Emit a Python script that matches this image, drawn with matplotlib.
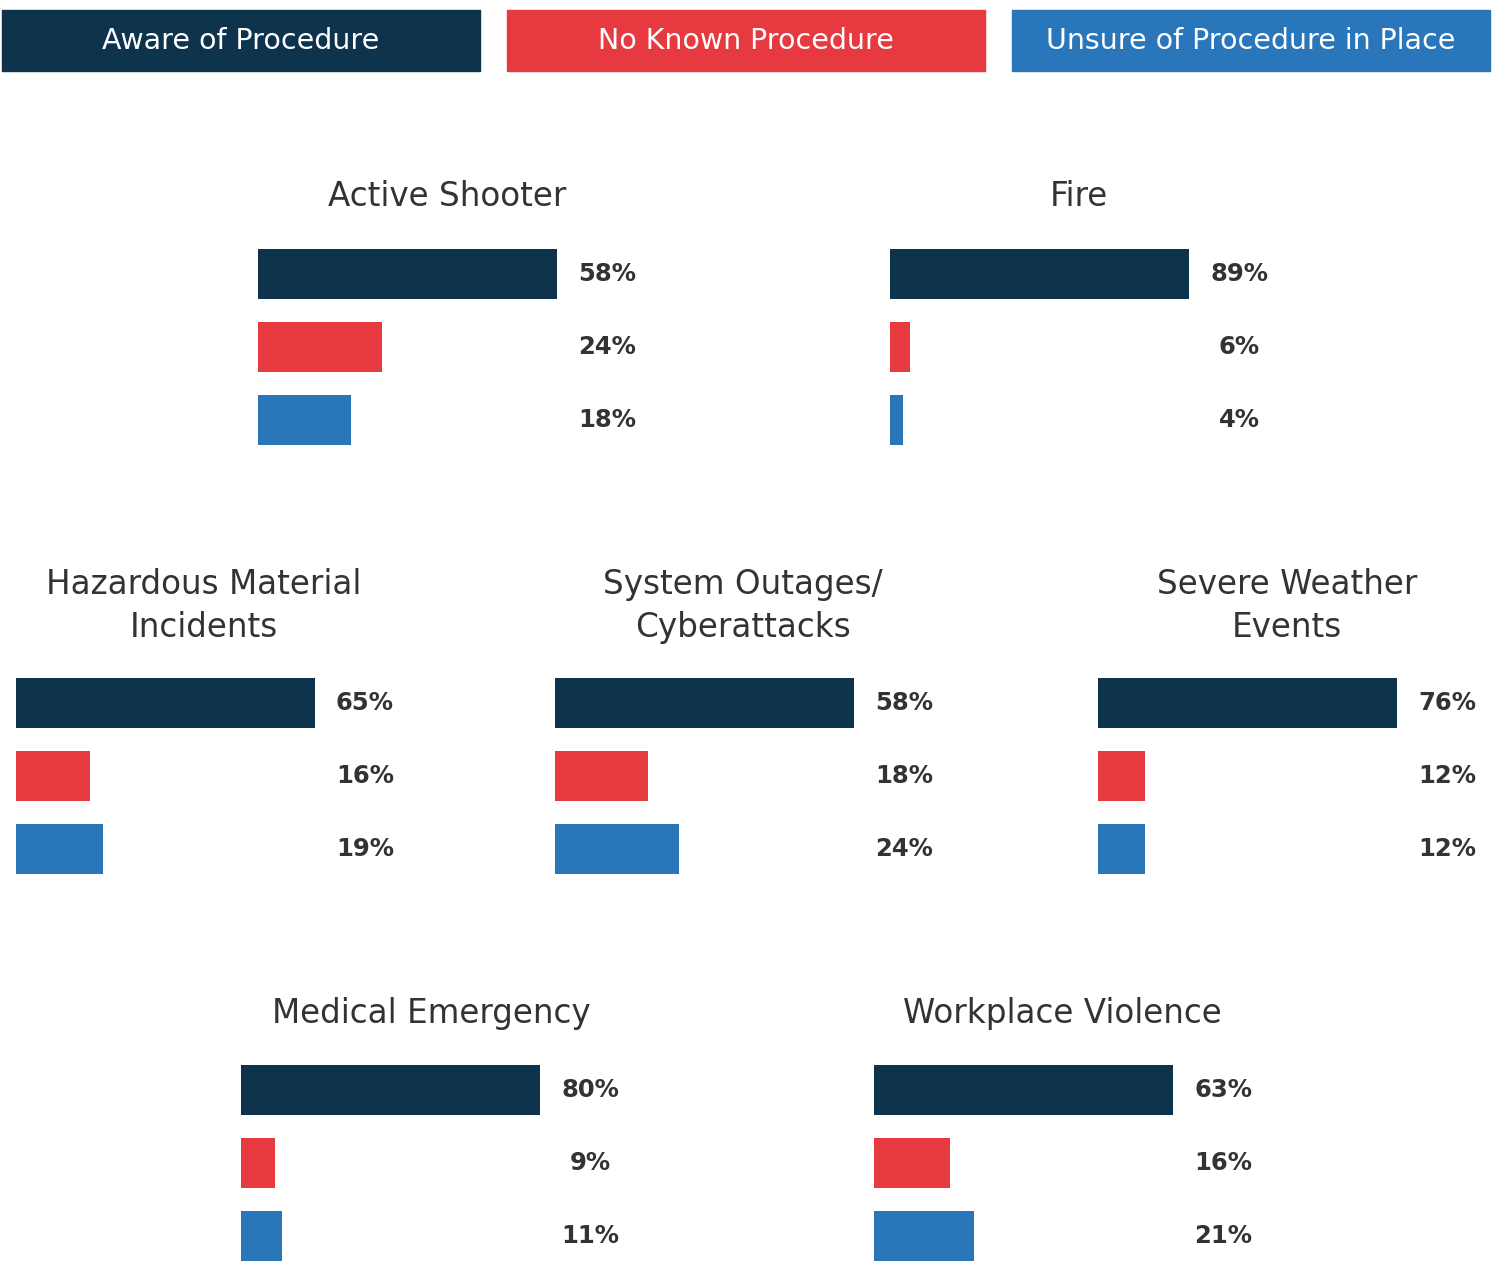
import matplotlib
matplotlib.use("Agg")
import matplotlib.pyplot as plt
from matplotlib.patches import Rectangle

# data
series = ["Aware of Procedure", "No Known Procedure", "Unsure of Procedure in Place"]
colors = ["#0e334d", "#e63a40", "#2a76bb"]

titles = ["Active Shooter", "Fire", "Hazardous Material\nIncidents",
          "System Outages/\nCyberattacks", "Severe Weather\nEvents",
          "Medical Emergency", "Workplace Violence"]
aware = [58, 89, 65, 58, 76, 80, 63]
no_known = [24, 6, 16, 18, 12, 9, 16]
unsure = [18, 4, 19, 24, 12, 11, 21]

# layout in pixels: bar left, top of first bar, title centre x, title centre y
layout = [(258, 249, 447, 197), (890, 249, 1079, 197),
          (16, 678, 204, 606), (555, 678, 743, 606), (1098, 678, 1287, 606),
          (241, 1065, 431, 1014), (874, 1065, 1062, 1014)]

W, H = 1499, 1270
fig = plt.figure(figsize=(W / 100, H / 100), dpi=100)
fig.patch.set_facecolor("white")

title_font = "DejaVu Sans"
num_font = "DejaVu Sans"

# legend boxes across the top
box_x = [2, 507, 1012]
for i, name in enumerate(series):
    fig.patches.append(Rectangle((box_x[i] / W, 1 - 71 / H), 478 / W, 61 / H,
                                 transform=fig.transFigure, color=colors[i]))
    fig.text((box_x[i] + 239) / W, 1 - 41 / H, name, color="white",
             ha="center", va="center", fontsize=20.5, family=title_font)

bar_w = 299
bar_h = 50
step = 73
for k, title in enumerate(titles):
    left, top, cx, ty = layout[k]
    span = step * 2 + bar_h
    ax = fig.add_axes([left / W, 1 - (top + span) / H, bar_w / W, span / H])
    vals = [aware[k], no_known[k], unsure[k]]
    hh = bar_h / step
    ax.barh([0, 1, 2], vals, height=hh, color=colors)
    ax.set_xlim(0, vals[0])
    ax.set_ylim(2 + hh / 2, -hh / 2)
    ax.axis("off")
    for j, v in enumerate(vals):
        ax.text(1 + 50 / bar_w, j, f"{v}%", transform=ax.get_yaxis_transform(),
                ha="center", va="center", fontsize=17.5, fontweight="bold",
                color="#333333", family=num_font, clip_on=False)
    fig.text(cx / W, 1 - ty / H, title, ha="center", va="center",
             fontsize=23.5, color="#333333", family=title_font, linespacing=1.35)

plt.savefig("out.png", dpi=100, facecolor="white")
